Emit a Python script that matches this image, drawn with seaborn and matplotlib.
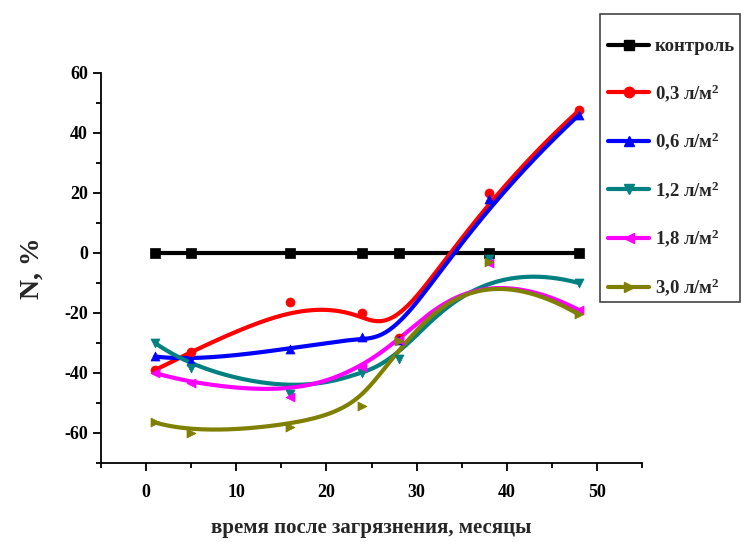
import numpy as np
import pandas as pd
import matplotlib
matplotlib.use("Agg")
import matplotlib.pyplot as plt
from matplotlib.lines import Line2D
from matplotlib.patches import Rectangle
from matplotlib.ticker import MultipleLocator
import seaborn as sns

# Months after contamination
months = [1, 5, 16, 24, 28, 38, 48]

# N, % for each oil load
control = [0, 0, 0, 0, 0, 0, 0]
dose_03 = [-39, -33, -16.5, -20, -28.5, 20, 47.5]
dose_06 = [-34.5, -36, -32, -28, -29, 18, 46]
dose_12 = [-30, -38.5, -47, -40, -35.5, -2, -10]
dose_18 = [-40, -43.5, -48, -38, -29, -3.5, -19]
dose_30 = [-56.5, -60, -58, -51, -29.5, -3, -20.5]

labels = ["контроль",
          "0,3 л/м$^{2}$", "0,6 л/м$^{2}$", "1,2 л/м$^{2}$",
          "1,8 л/м$^{2}$", "3,0 л/м$^{2}$"]
series = [control, dose_03, dose_06, dose_12, dose_18, dose_30]
colors = ["#000000", "#ff0000", "#0000ff", "#008080", "#ff00ff", "#808000"]
markers = ["s", "o", "^", "v", "<", ">"]

sns.set_theme(style="ticks")
plt.rcParams["font.family"] = ["Liberation Serif", "DejaVu Serif"]
plt.rcParams["font.weight"] = "bold"
plt.rcParams["axes.unicode_minus"] = False
plt.rcParams["mathtext.fontset"] = "custom"
plt.rcParams["mathtext.rm"] = "Liberation Serif:bold"
plt.rcParams["mathtext.bf"] = "Liberation Serif:bold"
plt.rcParams["mathtext.it"] = "Liberation Serif:bold"


def bspline_basis(i, k, t, knots):
    if k == 0:
        if knots[i + 1] == knots[-1]:
            return np.where((t >= knots[i]) & (t <= knots[i + 1]), 1.0, 0.0)
        return np.where((t >= knots[i]) & (t < knots[i + 1]), 1.0, 0.0)
    out = np.zeros_like(t)
    d1 = knots[i + k] - knots[i]
    if d1 > 0:
        out += (t - knots[i]) / d1 * bspline_basis(i, k - 1, t, knots)
    d2 = knots[i + k + 1] - knots[i + 1]
    if d2 > 0:
        out += (knots[i + k + 1] - t) / d2 * bspline_basis(i + 1, k - 1, t, knots)
    return out


def bspline_curve(xs, ys, degree=3, num=300):
    xs = np.asarray(xs, float)
    ys = np.asarray(ys, float)
    n = len(xs)
    inner = n - degree - 1
    knots = np.concatenate([np.zeros(degree + 1),
                            np.arange(1, inner + 1),
                            np.full(degree + 1, inner + 1)]).astype(float)
    t = np.linspace(0, inner + 1, num)
    bx = np.zeros(num)
    by = np.zeros(num)
    for i in range(n):
        b = bspline_basis(i, degree, t, knots)
        bx += b * xs[i]
        by += b * ys[i]
    return bx, by


W, H = 742, 542
fig = plt.figure(figsize=(W / 100, H / 100), dpi=100)
ax = fig.add_axes([101 / W, 1 - 463 / H, 541 / W, 390 / H])

handles = []
for vals, lab, col, mk in zip(series, labels, colors, markers):
    cx, cy = bspline_curve(months, vals)
    curve = pd.DataFrame({"x": cx, "y": cy})
    sns.lineplot(data=curve, x="x", y="y", ax=ax, color=col, lw=3.0,
                 sort=False, estimator=None, zorder=2)
    pts = pd.DataFrame({"x": months, "y": vals})
    sns.scatterplot(data=pts, x="x", y="y", ax=ax, color=col, marker=mk,
                    s=42, edgecolor=col, linewidth=0.5, zorder=3)
    handles.append(Line2D([0], [0], color=col, lw=3.0, marker=mk,
                          markersize=7.5, label=lab))

ax.set_xlim(-5, 55)
ax.set_ylim(-70, 60)
ax.xaxis.set_major_locator(MultipleLocator(10))
ax.xaxis.set_minor_locator(MultipleLocator(5))
ax.yaxis.set_major_locator(MultipleLocator(20))
ax.yaxis.set_minor_locator(MultipleLocator(10))
ax.tick_params(which="major", direction="out", length=6, width=1.3,
               labelsize=13, color="black", labelcolor="black")
ax.tick_params(which="minor", direction="out", length=3.5, width=1.3,
               color="black")
for lbl in ax.get_xticklabels() + ax.get_yticklabels():
    lbl.set_fontweight("bold")
ax.xaxis.set_tick_params(pad=9)
sns.despine(ax=ax)
for sp in ("left", "bottom"):
    ax.spines[sp].set_linewidth(1.3)
    ax.spines[sp].set_color("black")

ax.set_xlabel("время после загрязнения, месяцы", fontsize=15,
              fontweight="bold", labelpad=12)
ax.set_ylabel("N, %", fontsize=20, fontweight="bold", labelpad=14)

# legend frame drawn separately so its padding can be set freely
fig.patches.append(Rectangle((600 / W, 1 - 302 / H), 140 / W, 288 / H,
                             transform=fig.transFigure, facecolor="white",
                             edgecolor="#444444", linewidth=1.2, zorder=4))
leg = fig.legend(handles=handles, loc="upper left",
                 bbox_to_anchor=(608 / W, 1 - 38 / H),
                 frameon=False,
                 prop={"family": "Liberation Serif", "weight": "bold",
                       "size": 13.5},
                 handlelength=2.2, handletextpad=0.3, labelspacing=1.42,
                 borderpad=0, borderaxespad=0)
leg.set_zorder(5)

fig.savefig("out.png", dpi=100, facecolor="white")
